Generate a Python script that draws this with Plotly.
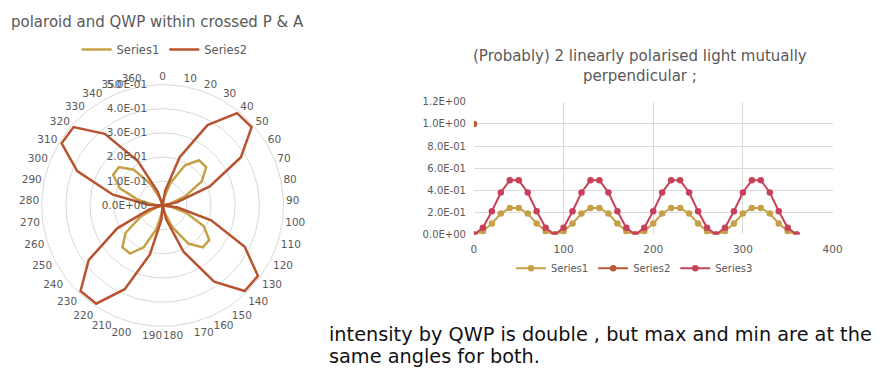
import plotly.graph_objects as go

# ---------------- data ----------------
angles = [0, 10, 20, 30, 40, 50, 60, 70, 80, 90, 100, 110, 120, 130, 140, 150, 160, 170, 180,
          190, 200, 210, 220, 230, 240, 250, 260, 270, 280, 290, 300, 310, 320, 330, 340, 350, 360]
angle_labels = [str(a) for a in angles]

series1 = [0, 0.03, 0.10, 0.19, 0.24, 0.24, 0.19, 0.10, 0.03,
           0, 0.03, 0.10, 0.19, 0.24, 0.24, 0.19, 0.10, 0.03,
           0, 0.03, 0.10, 0.19, 0.24, 0.24, 0.19, 0.10, 0.03,
           0, 0.03, 0.10, 0.19, 0.24, 0.24, 0.19, 0.10, 0.03, 0]
series3 = [0, 0.06, 0.21, 0.38, 0.49, 0.49, 0.38, 0.21, 0.06,
           0, 0.06, 0.21, 0.38, 0.49, 0.49, 0.38, 0.21, 0.06,
           0, 0.06, 0.21, 0.38, 0.49, 0.49, 0.38, 0.21, 0.06,
           0, 0.06, 0.21, 0.38, 0.49, 0.49, 0.38, 0.21, 0.06, 0]
series2_x = [0]
series2_y = [1.0]

radial_vals = [0, 0.1, 0.2, 0.3, 0.4, 0.5]
radial_text = ["0.0E+00", "1.0E-01", "2.0E-01", "3.0E-01", "4.0E-01", "5.0E-01"]
y_vals = [0, 0.2, 0.4, 0.6, 0.8, 1.0, 1.2]
y_text = ["0.0E+00", "2.0E-01", "4.0E-01", "6.0E-01", "8.0E-01", "1.0E+00", "1.2E+00"]
x_vals = [0, 100, 200, 300, 400]

left_title = "polaroid and QWP within crossed P &amp; A"
right_title = "(Probably) 2 linearly polarised light mutually<br>perpendicular ;"
note_line1 = "intensity by QWP is double , but max and min are at the"
note_line2 = "same angles for both."

# ---------------- style ----------------
GOLD = "#C6A046"
RED = "#B8532F"
ORANGE = "#B85A37"
CRIMSON = "#C8415A"
GRID = "#D9D9D9"
TXT = "#595959"
FONT = "DejaVu Sans, sans-serif"
PAD = "\u00a0" * 4  # keeps radial labels left of the axis

fig = go.Figure()

# radar chart
fig.add_trace(go.Scatterpolar(r=series1, theta=angle_labels, mode="lines", name="Series1",
                              line=dict(color=GOLD, width=2.5), legend="legend",
                              subplot="polar"))
fig.add_trace(go.Scatterpolar(r=series3, theta=angle_labels, mode="lines", name="Series2",
                              line=dict(color=RED, width=2.5), legend="legend",
                              subplot="polar"))

# line chart
fig.add_trace(go.Scatter(x=angles, y=series1, mode="lines+markers", name="Series1",
                         line=dict(color=GOLD, width=2), marker=dict(size=6.5, color=GOLD),
                         legend="legend2"))
fig.add_trace(go.Scatter(x=series2_x, y=series2_y, mode="lines+markers", name="Series2",
                         line=dict(color=ORANGE, width=2), marker=dict(size=6.5, color=ORANGE),
                         legend="legend2"))
fig.add_trace(go.Scatter(x=angles, y=series3, mode="lines+markers", name="Series3",
                         line=dict(color=CRIMSON, width=2), marker=dict(size=6.5, color=CRIMSON),
                         legend="legend2"))

W, H = 879, 376

fig.update_layout(
    width=W, height=H,
    margin=dict(l=0, r=0, t=0, b=0),
    paper_bgcolor="white", plot_bgcolor="white",
    font=dict(family=FONT, color=TXT),
    polar=dict(
        domain=dict(x=[37 / W, 287 / W], y=[45 / H, 295 / H]),
        bgcolor="white",
        gridshape="linear",
        angularaxis=dict(type="category", categoryarray=angle_labels, rotation=90,
                         direction="clockwise", showgrid=False, showline=True,
                         linecolor=GRID, linewidth=1, ticks="",
                         tickfont=dict(size=10.5, color=TXT)),
        radialaxis=dict(range=[0, 0.5], tickvals=radial_vals,
                        ticktext=[t + PAD for t in radial_text],
                        angle=90, side="counterclockwise", tickangle=90,
                        showline=False, ticks="", gridcolor=GRID, gridwidth=1,
                        tickfont=dict(size=10.5, color=TXT)),
    ),
    xaxis=dict(domain=[478 / W, 842 / W], range=[0, 400], tickvals=x_vals,
               showgrid=True, gridcolor=GRID, zeroline=False, showline=False,
               ticks="", ticklabelstandoff=7, tickfont=dict(size=10.5, color=TXT)),
    yaxis=dict(domain=[(H - 236) / H, (H - 99) / H], range=[0, 1.2], tickvals=y_vals,
               ticktext=y_text, showgrid=True, gridcolor=GRID, zeroline=False,
               showline=False, ticks="", ticklabelstandoff=7,
               tickfont=dict(size=10, color=TXT)),
    legend=dict(orientation="h", x=164 / W, y=1 - 45 / H, xanchor="center", yanchor="middle",
                font=dict(size=11.5, color=TXT), bgcolor="rgba(0,0,0,0)"),
    legend2=dict(orientation="h", x=641 / W, y=1 - 271 / H, xanchor="center", yanchor="middle",
                 font=dict(size=10, color=TXT), bgcolor="rgba(0,0,0,0)"),
    showlegend=True,
)

fig.add_annotation(text=left_title, x=6 / W, y=1 - 17 / H, xref="paper", yref="paper",
                   xanchor="left", yanchor="middle", showarrow=False,
                   font=dict(size=15, color=TXT, family=FONT))
fig.add_annotation(text=right_title, x=647 / W, y=1 - 62 / H, xref="paper", yref="paper",
                   xanchor="center", yanchor="middle", showarrow=False,
                   font=dict(size=15, color=TXT, family=FONT))
fig.add_annotation(text=note_line1, x=329 / W, y=1 - 339 / H, xref="paper", yref="paper",
                   xanchor="left", yanchor="middle", align="left", showarrow=False,
                   font=dict(size=19.3, color="#111111", family=FONT))
fig.add_annotation(text=note_line2, x=329 / W, y=1 - 362 / H, xref="paper", yref="paper",
                   xanchor="left", yanchor="middle", align="left", showarrow=False,
                   font=dict(size=19.3, color="#111111", family=FONT))

fig.write_html("out.html")
